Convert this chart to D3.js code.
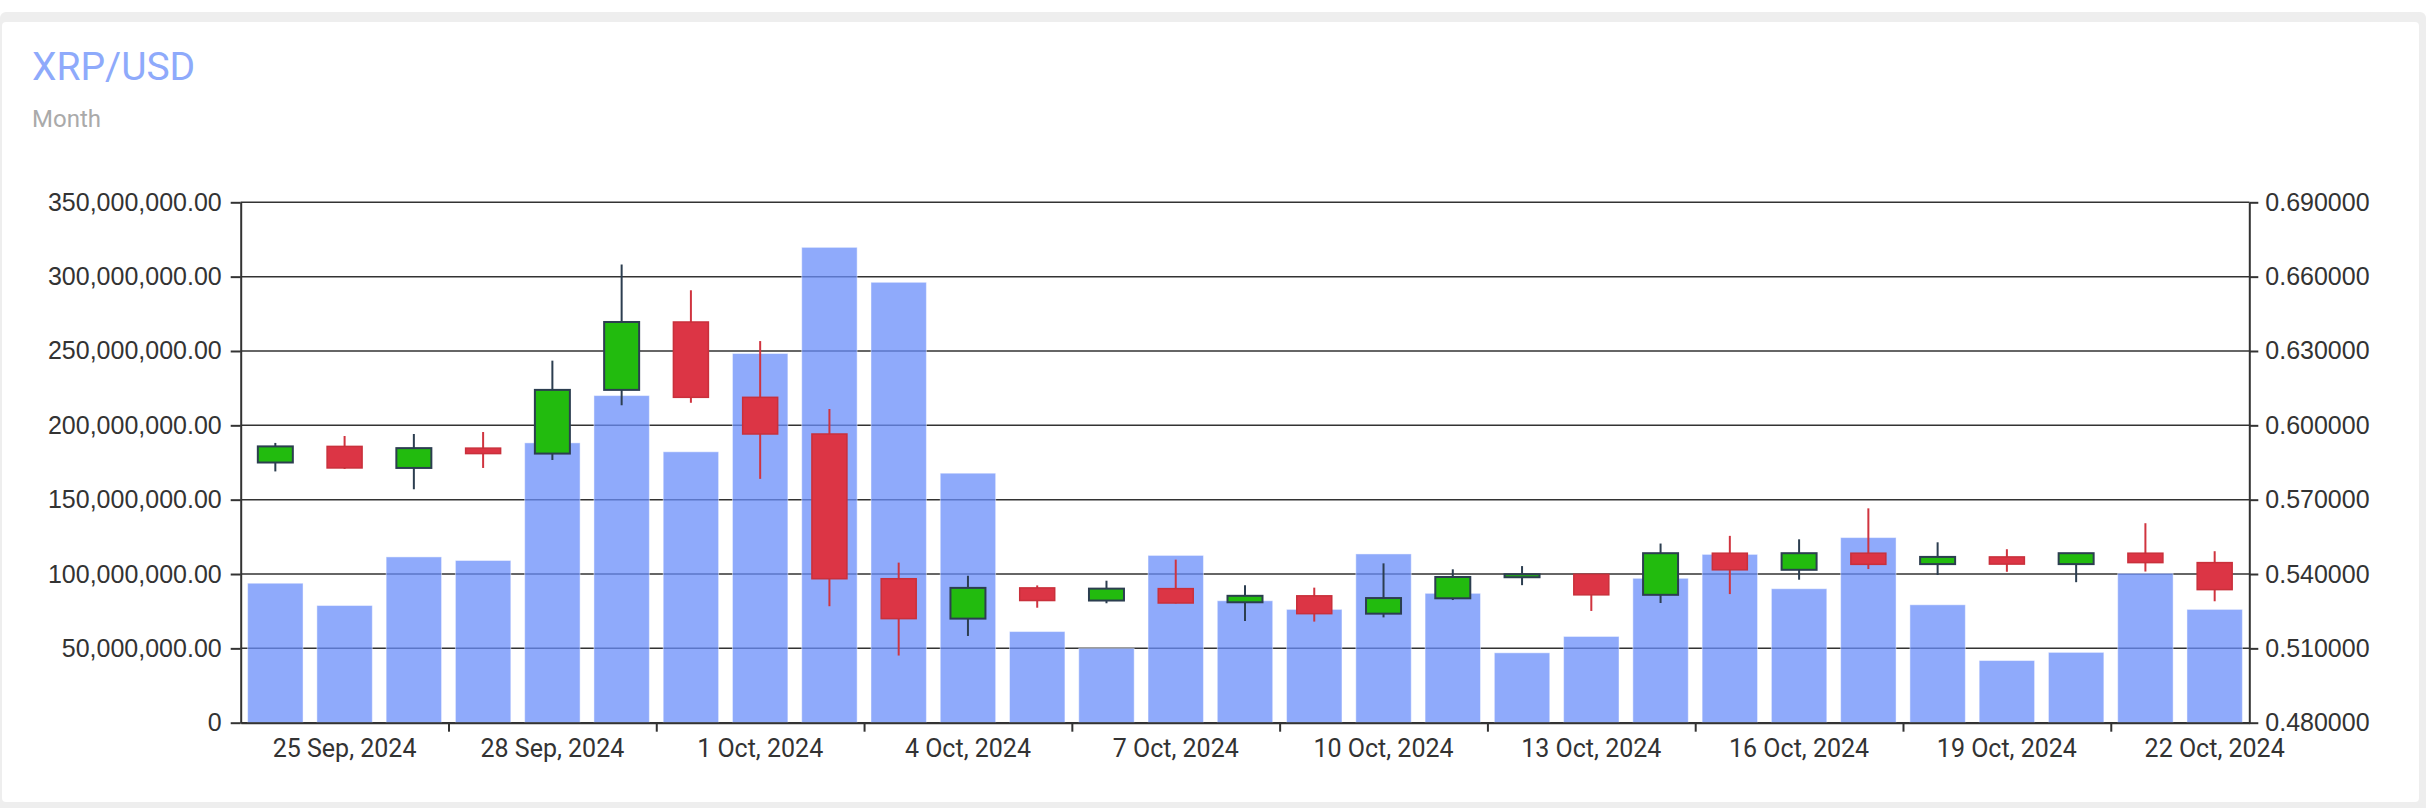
<!DOCTYPE html>
<html>
<head>
<meta charset="utf-8">
<title>XRP/USD</title>
<script src="https://cdn.jsdelivr.net/npm/d3@7"></script>
<style>
  body { margin: 0; background: #fff; }
  svg { display: block; font-family: Roboto, "Noto Sans", sans-serif; }
</style>
</head>
<body>
<div id="chart"></div>
<script>
// one entry per day
var dates = [
  "24 Sep, 2024", "25 Sep, 2024", "26 Sep, 2024", "27 Sep, 2024", "28 Sep, 2024",
  "29 Sep, 2024", "30 Sep, 2024", "1 Oct, 2024", "2 Oct, 2024", "3 Oct, 2024",
  "4 Oct, 2024", "5 Oct, 2024", "6 Oct, 2024", "7 Oct, 2024", "8 Oct, 2024",
  "9 Oct, 2024", "10 Oct, 2024", "11 Oct, 2024", "12 Oct, 2024", "13 Oct, 2024",
  "14 Oct, 2024", "15 Oct, 2024", "16 Oct, 2024", "17 Oct, 2024", "18 Oct, 2024",
  "19 Oct, 2024", "20 Oct, 2024", "21 Oct, 2024", "22 Oct, 2024"
];
var shownDates = [
  "25 Sep, 2024", "28 Sep, 2024", "1 Oct, 2024", "4 Oct, 2024", "7 Oct, 2024",
  "10 Oct, 2024", "13 Oct, 2024", "16 Oct, 2024", "19 Oct, 2024", "22 Oct, 2024"
];

var volume = [
  93.8e6, 78.8e6, 111.5e6, 109.1e6, 188.2e6, 220.0e6, 182.2e6, 248.3e6, 319.7e6, 296.2e6,
  167.8e6, 61.3e6, 50.0e6, 112.5e6, 82.0e6, 76.2e6, 113.5e6, 87.0e6, 47.0e6, 58.0e6,
  97.1e6, 113.2e6, 90.1e6, 124.5e6, 79.3e6, 41.8e6, 47.3e6, 100.5e6, 76.2e6
];
var openPrice = [
  0.5850, 0.5915, 0.5828, 0.5908, 0.5886, 0.6143, 0.6417, 0.6113, 0.5965, 0.5381,
  0.5220, 0.5344, 0.5293, 0.5341, 0.5286, 0.5312, 0.5240, 0.5302, 0.5387, 0.5399,
  0.5316, 0.5484, 0.5417, 0.5484, 0.5440, 0.5469, 0.5440, 0.5484, 0.5446
];
var highPrice = [
  0.5929, 0.5957, 0.5965, 0.5973, 0.6261, 0.6649, 0.6545, 0.6340, 0.6066, 0.5446,
  0.5393, 0.5354, 0.5373, 0.5458, 0.5355, 0.5345, 0.5443, 0.5419, 0.5432, 0.5400,
  0.5523, 0.5554, 0.5540, 0.5665, 0.5528, 0.5500, 0.5485, 0.5605, 0.5492
];
var lowPrice = [
  0.5814, 0.5824, 0.5742, 0.5828, 0.5860, 0.6081, 0.6091, 0.5784, 0.5270, 0.5071,
  0.5150, 0.5264, 0.5282, 0.5281, 0.5210, 0.5208, 0.5225, 0.5295, 0.5355, 0.5251,
  0.5283, 0.5319, 0.5377, 0.5420, 0.5396, 0.5409, 0.5367, 0.5410, 0.5290
];
var closePrice = [
  0.5915, 0.5828, 0.5908, 0.5886, 0.6143, 0.6417, 0.6113, 0.5965, 0.5381, 0.5220,
  0.5344, 0.5293, 0.5341, 0.5283, 0.5312, 0.5240, 0.5303, 0.5388, 0.5399, 0.5316,
  0.5484, 0.5417, 0.5484, 0.5439, 0.5469, 0.5440, 0.5484, 0.5446, 0.5337
];

var volumeTicks = [0, 50e6, 100e6, 150e6, 200e6, 250e6, 300e6, 350e6];
var priceTicks = [0.48, 0.51, 0.54, 0.57, 0.60, 0.63, 0.66, 0.69];

var width = 2426, height = 808;
var plotLeft = 240.7, plotRight = 2249.3, plotTop = 202.3, plotBottom = 722.7;

var svg = d3.select("#chart").append("svg")
  .attr("width", width)
  .attr("height", height);

// frame
svg.append("rect")
  .attr("x", 0).attr("y", 12)
  .attr("width", width).attr("height", height)
  .attr("rx", 6)
  .attr("fill", "#eeeeee");
svg.append("rect")
  .attr("x", 2).attr("y", 22)
  .attr("width", 2417).attr("height", 780)
  .attr("rx", 4)
  .attr("fill", "#ffffff");

svg.append("text")
  .attr("x", 32).attr("y", 80)
  .attr("font-size", 39)
  .attr("fill", "#8eaafb")
  .text("XRP/USD");
svg.append("text")
  .attr("x", 32).attr("y", 127)
  .attr("font-size", 24)
  .attr("fill", "#aaaaaa")
  .text("Month");

var x = d3.scaleBand()
  .domain(dates)
  .range([plotLeft, plotRight])
  .paddingInner(0.2)
  .paddingOuter(0.1);
var xEdge = d3.scaleLinear().domain([0, dates.length]).range([plotLeft, plotRight]);
var yVol = d3.scaleLinear().domain([0, 350e6]).range([plotBottom, plotTop]);
var yPrice = d3.scaleLinear().domain([0.48, 0.69]).range([plotBottom, plotTop]);

// grid
svg.append("g")
  .selectAll("line")
  .data(volumeTicks)
  .join("line")
  .attr("x1", plotLeft).attr("x2", plotRight)
  .attr("y1", function (d) { return yVol(d); })
  .attr("y2", function (d) { return yVol(d); })
  .attr("stroke", "#333")
  .attr("stroke-width", 1.5);

// volume bars
svg.append("g")
  .selectAll("rect")
  .data(dates)
  .join("rect")
  .attr("x", function (d) { return x(d); })
  .attr("width", x.bandwidth())
  .attr("y", function (d, i) { return yVol(volume[i]); })
  .attr("height", function (d, i) { return plotBottom - yVol(volume[i]); })
  .attr("fill", "#6a8efa")
  .attr("fill-opacity", 0.75)
  .attr("stroke", "#ffffff")
  .attr("stroke-opacity", 0.45)
  .attr("stroke-width", 1);

// candles
var candleW = 35;
function isUp(i) { return closePrice[i] >= openPrice[i]; }
var candles = svg.append("g")
  .selectAll("g")
  .data(dates)
  .join("g")
  .attr("transform", function (d) { return "translate(" + (x(d) + x.bandwidth() / 2) + ",0)"; });

candles.append("line")
  .attr("y1", function (d, i) { return yPrice(highPrice[i]); })
  .attr("y2", function (d, i) { return yPrice(lowPrice[i]); })
  .attr("stroke", function (d, i) { return isUp(i) ? "#2c3e50" : "#d0343f"; })
  .attr("stroke-width", 2);

candles.append("rect")
  .attr("x", -candleW / 2)
  .attr("width", candleW)
  .attr("y", function (d, i) { return yPrice(Math.max(openPrice[i], closePrice[i])); })
  .attr("height", function (d, i) {
    return Math.max(2, Math.abs(yPrice(openPrice[i]) - yPrice(closePrice[i])));
  })
  .attr("fill", function (d, i) { return isUp(i) ? "#22bb0e" : "#dc3545"; })
  .attr("stroke", function (d, i) { return isUp(i) ? "#2c3e50" : "#c9303b"; })
  .attr("stroke-width", function (d, i) { return isUp(i) ? 2 : 1.5; });

// axes
var leftAxis = svg.append("g")
  .attr("transform", "translate(" + plotLeft + ",0)")
  .call(d3.axisLeft(yVol)
    .tickValues(volumeTicks)
    .tickSize(10)
    .tickSizeOuter(0)
    .tickPadding(9)
    .tickFormat(function (d) { return d === 0 ? "0" : d3.format(",.2f")(d); }));

var rightAxis = svg.append("g")
  .attr("transform", "translate(" + plotRight + ",0)")
  .call(d3.axisRight(yPrice)
    .tickValues(priceTicks)
    .tickSize(9)
    .tickSizeOuter(0)
    .tickPadding(7)
    .tickFormat(d3.format(".6f")));

var bottomAxis = svg.append("g")
  .attr("transform", "translate(0," + plotBottom + ")")
  .call(d3.axisBottom(xEdge)
    .tickValues([3, 6, 9, 12, 15, 18, 21, 24, 27])
    .tickSize(9)
    .tickSizeOuter(0)
    .tickFormat(""));

svg.append("g")
  .selectAll("text")
  .data(shownDates)
  .join("text")
  .attr("x", function (d) { return x(d) + x.bandwidth() / 2; })
  .attr("y", 757)
  .attr("text-anchor", "middle")
  .attr("font-size", 25)
  .attr("fill", "#333")
  .text(function (d) { return d; });

[leftAxis, rightAxis, bottomAxis].forEach(function (g) {
  g.selectAll("path, line").attr("stroke", "#333").attr("stroke-width", 2);
  g.selectAll("text").attr("font-size", 25).attr("fill", "#333").attr("font-family", null);
});
</script>
</body>
</html>
